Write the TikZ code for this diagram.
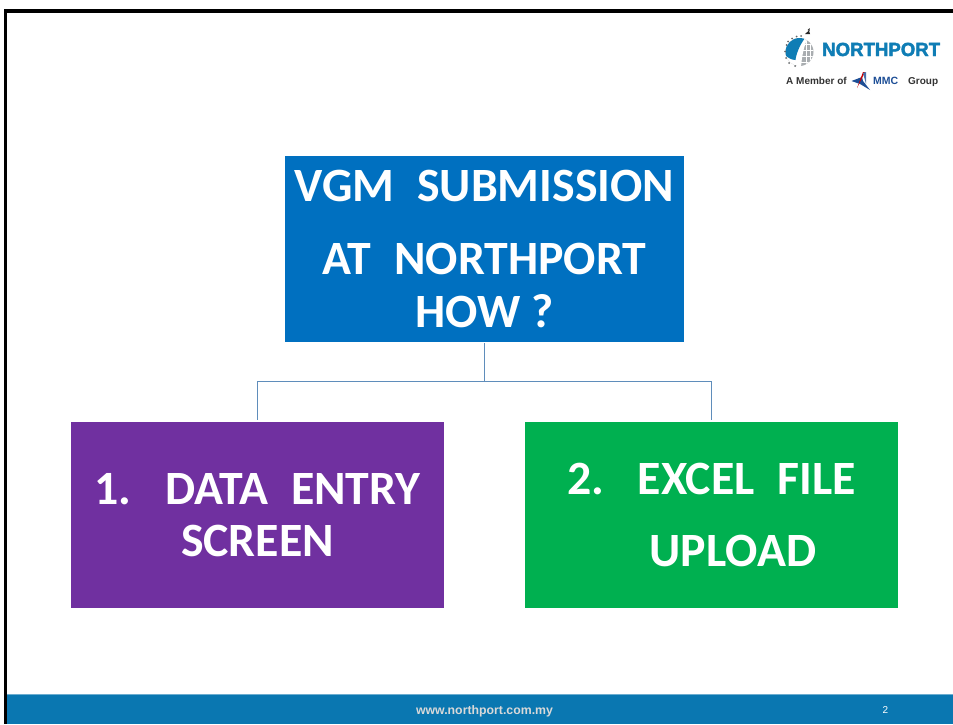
\documentclass[tikz,border=0pt]{standalone}
\usepackage{fontspec}
\setmainfont{Carlito}
\newfontfamily\logofont{Liberation Sans}
\newfontfamily\logoheavy[FakeBold=2.2]{Liberation Sans}
\definecolor{boxblue}{HTML}{0070C0}
\definecolor{boxpurple}{HTML}{7030A0}
\definecolor{boxgreen}{HTML}{00B050}
\definecolor{footblue}{HTML}{0A77B1}
\definecolor{linkblue}{HTML}{5F8DBB}
\definecolor{logoblue}{HTML}{0F7DB5}
\definecolor{logogray}{HTML}{A9ADB0}
\definecolor{mmcblue}{HTML}{1D4E96}
\tikzset{
  tile/.style={rectangle,draw=none,text=white,inner sep=0pt,minimum width=#1,align=center,
    font=\fontsize{47.8}{53}\selectfont\bfseries},
  tile/.default=373pt,
  link/.style={draw=linkblue,line width=1.5pt},
  logotext/.style={inner sep=0pt,anchor=base west,font=\logofont\bfseries},
  foottext/.style={inner sep=0pt,text=white,font=\logofont}
}
\begin{document}
\begin{tikzpicture}[x=1pt,y=-1pt]
\useasboundingbox (0,0) rectangle (953,724);
\fill[white] (0,0) rectangle (953,724);
% frame
\fill[black] (4,9) rectangle (953,12.5);
\fill[black] (4,9) rectangle (7,724);
% footer
\fill[footblue] (7,695) rectangle (953,724);
\fill[footblue!60] (7,694) rectangle (953,695);
\node[foottext,font=\logofont\bfseries\fontsize{12.3}{14}\selectfont,text=white!85!black] (url) at (484.5,711.5) {www.northport.com.my};
\node[foottext,font=\logofont\fontsize{10}{12}\selectfont] (pageno) at (885.5,710) {2};
% boxes
\node[tile=399pt,fill=boxblue,minimum height=186pt] (top) at (484.5,249) {VGM\hspace{0.25em} SUBMISSION\\[20pt]AT\hspace{0.25em} NORTHPORT\\HOW ?};
\node[tile,fill=boxpurple,minimum height=186pt] (left) at (257.5,515) {1.\hspace{0.4em} DATA\hspace{0.25em} ENTRY\\[-0.8pt]SCREEN};
\node[tile,fill=boxgreen,minimum height=186pt] (right) at (711.5,515) {2.\hspace{0.4em} EXCEL\hspace{0.25em} FILE\\[19.2pt]\hspace{43pt}UPLOAD};
% connectors
\coordinate (bus) at (484.5,381.5);
\draw[link,shorten <=1pt,shorten >=2pt] (top.south) -- (bus) -| (left.north);
\draw[link,shorten >=2pt] (bus) -| (right.north);
% logo globe
\begin{scope}
\clip (799.5,52) circle (14);
\fill[logogray] (785,38) rectangle (814,66);
\foreach \gy in {44,50,56,62}{\draw[white,line width=.4pt] (785,\gy) -- (814,\gy);}
\foreach \gx in {806,810}{\draw[white,line width=.4pt] (\gx,38) -- (\gx,66);}
\fill[white] (785,38) rectangle (801,67);
\fill[white] (801,67) .. controls (802,55) and (804,46) .. (808,37) -- (800,37) -- cycle;
\fill[logoblue] (785,38) -- (805,38) .. controls (799,46) and (796,55) .. (795.5,60) .. controls (792,60) and (788,58) .. (785,55) -- cycle;
\end{scope}
\foreach \px/\py in {785/51.5,786/58,789/63,795/66,786.5/45,788/41.5,792/38.5,796.5/36.5,801/36}{\fill[logogray!60!black] (\px,\py) circle (1pt);}
\fill[black!85] (805,34) -- (809,30.5) -- (810,34) -- cycle;
\fill[black!85] (807.5,30) -- (809.5,28) -- (809.5,31) -- cycle;
\node[logotext,text=logoblue] (np) at (822,56) {\logoheavy\fontsize{19}{20}\selectfont\scalebox{0.98}[1.0]{NORTHPORT}};
\node[logotext,text=black!80] (member) at (786,84) {\fontsize{10}{12}\selectfont A Member of};
\fill[mmcblue] (851.5,81) -- (862,77) -- (863,81) -- (870,90) -- (860,84) -- cycle;
\fill[red!80!black] (863,72) -- (865,72) -- (857,88) -- cycle;
\fill[mmcblue!80] (863,73) -- (866,72) -- (866,84) -- cycle;
\node[logotext,text=mmcblue] (mmc) at (873,84) {\fontsize{10.5}{12}\selectfont MMC};
\node[logotext,text=black!80] (group) at (908,84) {\fontsize{10}{12}\selectfont Group};
\end{tikzpicture}
\end{document}
